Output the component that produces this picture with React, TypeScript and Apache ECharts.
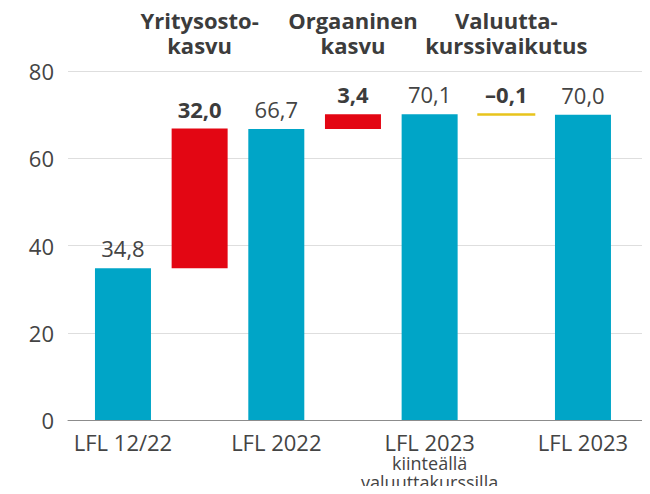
import React, { useEffect, useRef } from 'react';
import * as echarts from 'echarts';

// Waterfall steps (one entry per column)
const categories = [
  'LFL 12/22',
  'Yritysostokasvu',
  'LFL 2022',
  'Orgaaninen kasvu',
  'LFL 2023 kiinteällä valuuttakurssilla',
  'Valuuttakurssivaikutus',
  'LFL 2023',
];
const totals: (number | null)[] = [34.8, null, 66.7, null, 70.1, null, 70.0];
const changes: (number | null)[] = [null, 32.0, null, 3.4, null, -0.1, null];

// Text under and above the columns
const bottomLabelLines: string[][] = [
  ['LFL 12/22'],
  [],
  ['LFL 2022'],
  [],
  ['LFL 2023', 'kiinteällä', 'valuuttakurssilla'],
  [],
  ['LFL 2023'],
];
const headerLines: string[][] = [
  [],
  ['Yritysosto-', 'kasvu'],
  [],
  ['Orgaaninen', 'kasvu'],
  [],
  ['Valuutta-', 'kurssivaikutus'],
  [],
];

const yMin = 0;
const yMax = 80;
const yInterval = 20;

const BLUE = '#00a5c7';
const RED = '#e30613';
const YELLOW = '#e8c41c';
const TEXT = '#444444';
const DARK = '#3c3c3c';
const FONT = 'Open Sans';
const BAR_W = 56;

const fmt = (v: number) => (v < 0 ? '–' : '') + Math.abs(v).toFixed(1).replace('.', ',');

export default function App() {
  const ref = useRef<HTMLDivElement>(null);

  useEffect(() => {
    if (!ref.current) return;
    const chart = echarts.init(ref.current, undefined, { renderer: 'svg' });

    const idx = categories.map((_, i) => i);
    const bottomIdx = idx.filter((i) => bottomLabelLines[i].length > 0);
    const topIdx = idx.filter((i) => headerLines[i].length > 0);

    const totalData = idx.filter((i) => totals[i] != null).map((i) => [i, totals[i] as number]);
    const changeData = idx
      .filter((i) => changes[i] != null)
      .map((i) => {
        const c = changes[i] as number;
        const prev = totals[i - 1] as number;
        const lo = c >= 0 ? prev : prev + c;
        const hi = lo + Math.abs(c);
        return [i, lo, hi, c];
      });

    const xMin = -0.717;
    const xMax = 6.77;

    chart.setOption({
      animation: false,
      textStyle: { fontFamily: FONT },
      grid: { left: 68, right: 8, top: 71, bottom: 74 },
      xAxis: [
        {
          type: 'value',
          position: 'bottom',
          min: xMin,
          max: xMax,
          splitLine: { show: false },
          axisTick: { show: false },
          axisLine: { show: true, onZero: false, lineStyle: { color: '#8c8c8c', width: 1 } },
          axisLabel: {
            customValues: bottomIdx,
            margin: 11,
            formatter: (v: number) => {
              const lines = bottomLabelLines[Math.round(v)] || [];
              return lines.map((l, k) => (k === 0 ? `{a|${l}}` : `{b|${l}}`)).join('\n');
            },
            rich: {
              a: { fontSize: 22, lineHeight: 22, color: TEXT, fontFamily: FONT },
              b: { fontSize: 18, lineHeight: 19, color: TEXT, fontFamily: FONT },
            },
          },
        },
        {
          type: 'value',
          position: 'top',
          min: xMin,
          max: xMax,
          splitLine: { show: false },
          axisTick: { show: false },
          axisLine: { show: false },
          axisLabel: {
            customValues: topIdx,
            margin: 14,
            formatter: (v: number) => {
              const lines = headerLines[Math.round(v)] || [];
              return lines.map((l) => `{h|${l}}`).join('\n');
            },
            rich: {
              h: { fontSize: 22, lineHeight: 25, fontWeight: 'bold', color: DARK, fontFamily: FONT },
            },
          },
        },
      ],
      yAxis: {
        type: 'value',
        min: yMin,
        max: yMax,
        interval: yInterval,
        axisLine: { show: false },
        axisTick: { show: false },
        splitLine: { lineStyle: { color: '#dedede', width: 1 } },
        axisLabel: { fontSize: 22, color: TEXT, margin: 14, fontFamily: FONT },
      },
      series: [
        {
          type: 'bar',
          name: 'total',
          barWidth: BAR_W,
          data: totalData,
          itemStyle: { color: BLUE },
          label: {
            show: true,
            position: 'top',
            distance: 9,
            fontSize: 22,
            color: TEXT,
            fontFamily: FONT,
            formatter: (p: any) => fmt(p.value[1]),
          },
        },
        {
          type: 'custom',
          name: 'change',
          data: changeData,
          encode: { x: 0, y: [1, 2] },
          renderItem: (params: any, api: any) => {
            const x = api.value(0);
            const lo = api.value(1);
            const hi = api.value(2);
            const c = api.value(3);
            const pTop = api.coord([x, hi]);
            const pBot = api.coord([x, lo]);
            const neg = c < 0;
            const col = neg ? YELLOW : RED;
            return {
              type: 'rect',
              shape: {
                x: pTop[0] - BAR_W / 2,
                y: pTop[1],
                width: BAR_W,
                height: pBot[1] - pTop[1],
              },
              style: {
                fill: col,
                stroke: neg ? col : undefined,
                lineWidth: neg ? 2 : 0,
              },
              textContent: {
                style: {
                  text: fmt(c),
                  fontSize: 22,
                  fontWeight: 'bold',
                  fill: DARK,
                  fontFamily: FONT,
                },
              },
              textConfig: { position: 'top', distance: neg ? 8 : 9 },
            };
          },
        },
      ],
    });

    return () => chart.dispose();
  }, []);

  return <div ref={ref} style={{ width: 650, height: 494, margin: -8 }} />;
}
